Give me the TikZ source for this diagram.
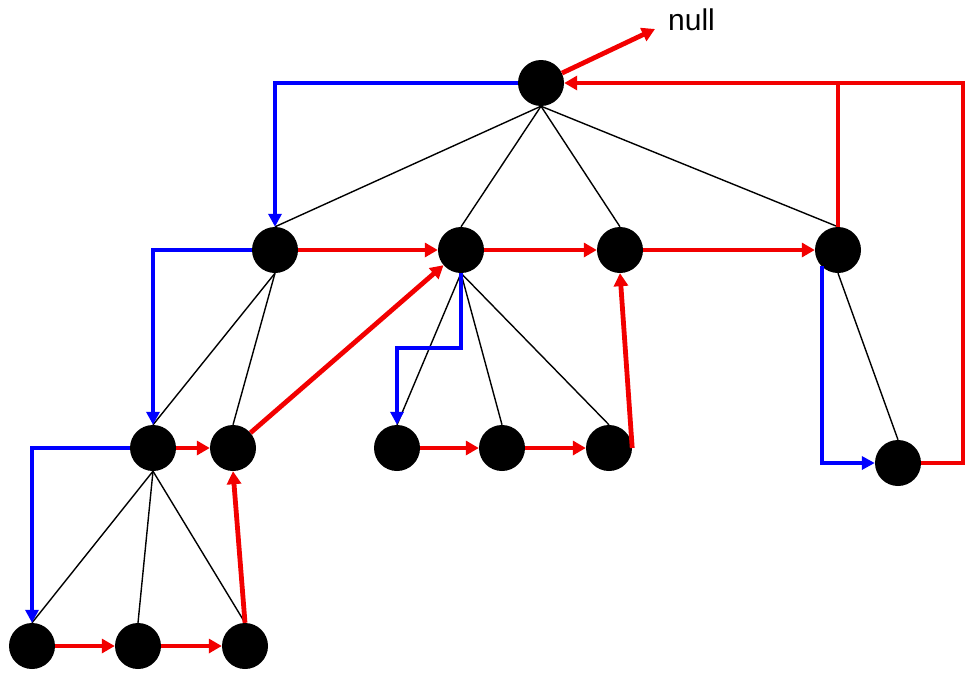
\documentclass[tikz,border=0pt]{standalone}
\usepackage{fontspec}
\setmainfont{Liberation Sans}
\usetikzlibrary{arrows.meta}
\begin{document}
\begin{tikzpicture}[x=1pt,y=-1pt,
  dot/.style={circle,fill=black,minimum size=46pt,inner sep=0pt},
  treeedge/.style={line width=1.4pt,black},
  nextp/.style={line width=4.8pt,red!95!black,-{Triangle[length=13pt,width=14pt]}},
  nextline/.style={line width=4.8pt,red!95!black},
  childp/.style={line width=4pt,blue,-{Triangle[length=13pt,width=13pt]}}]
\useasboundingbox (0,0) rectangle (965,677);
% nodes
\node[dot] (R) at (541,83) {};
\node[dot] (A) at (275,250) {};
\node[dot] (B) at (461,250) {};
\node[dot] (C) at (620,250) {};
\node[dot] (D) at (838,250) {};
\node[dot] (A1) at (153,448) {};
\node[dot] (A2) at (233,448) {};
\node[dot] (B1) at (397,448) {};
\node[dot] (B2) at (502,448) {};
\node[dot] (B3) at (609,448) {};
\node[dot] (D1) at (898,463) {};
\node[dot] (L1) at (32,646) {};
\node[dot] (L2) at (138,646) {};
\node[dot] (L3) at (245,646) {};
\node[anchor=base west,inner sep=0pt,font=\fontsize{30}{34}\selectfont] (null) at (668,31) {null};
\coordinate (nulltip) at (655,29);
\coordinate (bb) at (397,348);
\coordinate (re1) at (963,463);
\coordinate (re2) at (963,83);
\coordinate (dj) at (838,83);
% tree edges
\foreach \p/\c in {R/A,R/B,R/C,R/D,A/A1,A/A2,B/B1,B/B2,B/B3,D/D1,A1/L1,A1/L2,A1/L3}
  \draw[treeedge] (\p.south) -- (\c.north);
% first-child pointers
\draw[childp] (R.west) -| (A.north);
\draw[childp] (A.west) -| (A1.north);
\draw[childp] (A1.west) -| (L1.north);
\draw[childp] (B.south) |- (bb) -- (B1.north);
\draw[childp] (D.south west) |- (D1);
% next pointers
\draw[nextp] (R) -- (nulltip);
\draw[nextp] (A) -- (B);
\draw[nextp] (B) -- (C);
\draw[nextp] (C) -- (D);
\draw[nextp] (A1) -- (A2);
\draw[nextp] (A2) -- (B);
\draw[nextp] (L1) -- (L2);
\draw[nextp] (L2) -- (L3);
\draw[nextp] (L3.north) -- (A2.south);
\draw[nextp] (B1) -- (B2);
\draw[nextp] (B2) -- (B3);
\draw[nextp] (B3.east) -- (C.south);
\draw[nextline] (D.north) -- (dj);
\draw[nextp] (D1.east) -- (re1) -- (re2) -- (R);
\end{tikzpicture}
\end{document}
